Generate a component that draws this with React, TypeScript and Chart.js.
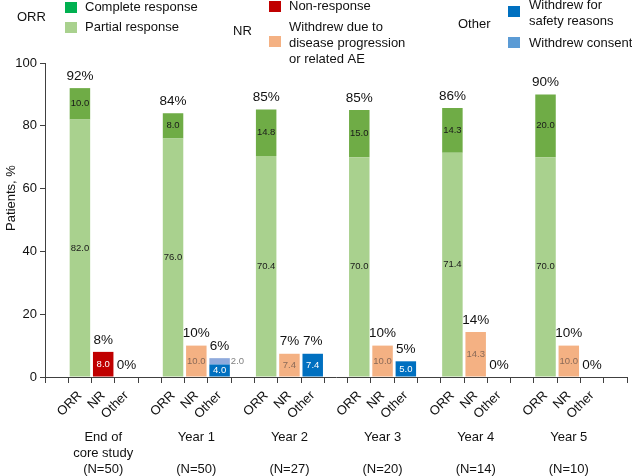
import React, { useEffect, useRef } from 'react';
import { Chart, registerables } from 'chart.js';

Chart.register(...registerables);

const FONT = "Arial, 'Liberation Sans', Helvetica, sans-serif";
const TEXT = '#111111';
const AXIS = '#404040';

// ---- data ----
const subCategories = ['ORR', 'NR', 'Other'];
const groupLabels = [
  ['End of', 'core study', '(N=50)'],
  ['Year 1', '', '(N=50)'],
  ['Year 2', '', '(N=27)'],
  ['Year 3', '', '(N=20)'],
  ['Year 4', '', '(N=14)'],
  ['Year 5', '', '(N=10)'],
];
const partialResponse = [82.0, 76.0, 70.4, 70.0, 71.4, 70.0];
const completeResponse = [10.0, 8.0, 14.8, 15.0, 14.3, 20.0];
const nonResponse = [8.0, 0, 0, 0, 0, 0];
const withdrewProgression = [0, 10.0, 7.4, 10.0, 14.3, 10.0];
const withdrewSafety = [0, 4.0, 7.4, 5.0, 0, 0];
const withdrewConsent = [0, 2.0, 0, 0, 0, 0];
const orrTotals = ['92%', '84%', '85%', '85%', '86%', '90%'];
const nrTotals = ['8%', '10%', '7%', '10%', '14%', '10%'];
const otherTotals = ['0%', '6%', '7%', '5%', '0%', '0%'];
const yTickValues = [0, 20, 40, 60, 80, 100];

// ---- slot layout (leading empty slot, then groups of ORR/NR/Other + gap) ----
const slotLabels: string[] = [''];
groupLabels.forEach(() => {
  subCategories.forEach((s) => slotLabels.push(s));
  slotLabels.push('');
});
const slotIndex = (g: number, s: number) => 1 + 4 * g + s;
function toSlots(values: number[], sub: number) {
  const arr: (number | null)[] = new Array(slotLabels.length).fill(null);
  values.forEach((v, g) => {
    if (v) arr[slotIndex(g, sub)] = v;
  });
  return arr;
}

const seriesDefs = [
  { label: 'Partial response', values: partialResponse, sub: 0, color: '#A9D18E', text: '#1a1a1a', outside: false },
  { label: 'Complete response', values: completeResponse, sub: 0, color: '#6FAC46', text: '#1a1a1a', outside: false },
  { label: 'Non-response', values: nonResponse, sub: 1, color: '#C00000', text: '#ffffff', outside: false },
  { label: 'Withdrew due to disease progression or related AE', values: withdrewProgression, sub: 1, color: '#F4B183', text: '#8a6a58', outside: false },
  { label: 'Withdrew for safety reasons', values: withdrewSafety, sub: 2, color: '#0070C0', text: '#ffffff', outside: false },
  { label: 'Withdrew consent', values: withdrewConsent, sub: 2, color: '#8FAADC', text: '#808080', outside: true },
];

const totalsBySub = [orrTotals, nrTotals, otherTotals];

const labelPlugin = {
  id: 'customLabels',
  afterDatasetsDraw(chart: any) {
    const ctx = chart.ctx;
    const xs = chart.scales.x;
    const ys = chart.scales.y;
    ctx.save();
    // inner value labels
    ctx.font = `9.5px ${FONT}`;
    ctx.textBaseline = 'middle';
    seriesDefs.forEach((def, di) => {
      const meta = chart.getDatasetMeta(di);
      meta.data.forEach((el: any, i: number) => {
        const v = chart.data.datasets[di].data[i];
        if (v == null) return;
        const ymid = (el.y + el.base) / 2;
        ctx.fillStyle = def.text;
        if (def.outside) {
          ctx.textAlign = 'left';
          ctx.fillText(Number(v).toFixed(1), el.x + el.width / 2 + 1, ymid);
        } else {
          ctx.textAlign = 'center';
          ctx.fillText(Number(v).toFixed(1), el.x, ymid);
        }
      });
    });
    // totals
    ctx.font = `13.5px ${FONT}`;
    ctx.fillStyle = TEXT;
    ctx.textAlign = 'center';
    groupLabels.forEach((_, g) => {
      for (let s = 0; s < 3; s++) {
        let sum = 0;
        seriesDefs.forEach((d) => {
          if (d.sub === s) sum += d.values[g];
        });
        const x = xs.getPixelForValue(slotIndex(g, s));
        const y = ys.getPixelForValue(sum);
        ctx.fillText(totalsBySub[s][g], x, y - 12);
      }
    });
    ctx.restore();
  },
  afterDraw(chart: any) {
    const ctx = chart.ctx;
    const xs = chart.scales.x;
    ctx.save();
    ctx.fillStyle = TEXT;
    ctx.font = `13px ${FONT}`;
    ctx.textBaseline = 'middle';
    // group labels
    ctx.textAlign = 'center';
    groupLabels.forEach((lines, g) => {
      const x = xs.getPixelForValue(slotIndex(g, 1));
      lines.forEach((ln, k) => {
        if (ln) ctx.fillText(ln, x, 437 + k * 16);
      });
    });
    // y title
    ctx.save();
    ctx.translate(11, 198);
    ctx.rotate(-Math.PI / 2);
    ctx.fillText('Patients, %', 0, 0);
    ctx.restore();
    // legend
    ctx.textAlign = 'left';
    const txt = (t: string, x: number, y: number) => {
      ctx.fillStyle = TEXT;
      ctx.fillText(t, x, y);
    };
    const sw = (c: string, x: number, y: number) => {
      ctx.fillStyle = c;
      ctx.fillRect(x, y, 12, 11);
    };
    txt('ORR', 17, 17);
    sw('#00B050', 65, 2);
    txt('Complete response', 85, 7);
    sw('#A9D18E', 65, 22);
    txt('Partial response', 85, 27);

    txt('NR', 233, 31);
    sw('#C00000', 269, 1);
    txt('Non-response', 289, 6);
    sw('#F4B183', 269, 36);
    txt('Withdrew due to', 289, 27);
    txt('disease progression', 289, 43);
    txt('or related AE', 289, 59);

    txt('Other', 458, 24);
    sw('#0070C0', 508, 6);
    txt('Withdrew for', 529, 5);
    txt('safety reasons', 529, 21);
    sw('#5B9BD5', 508, 37);
    txt('Withdrew consent', 529, 43);
    ctx.restore();
  },
};

export default function App() {
  const canvasRef = useRef<HTMLCanvasElement | null>(null);

  useEffect(() => {
    if (!canvasRef.current) return;
    const chart = new Chart(canvasRef.current, {
      type: 'bar',
      data: {
        labels: slotLabels,
        datasets: seriesDefs.map((d) => ({
          label: d.label,
          data: toSlots(d.values, d.sub),
          backgroundColor: d.color,
          borderWidth: 0,
          barPercentage: 0.88,
          categoryPercentage: 1,
          stack: 's',
        })),
      },
      options: {
        animation: false,
        responsive: true,
        maintainAspectRatio: false,
        layout: { padding: { top: 63, right: 5, left: 0, bottom: 0 } },
        plugins: {
          legend: { display: false },
          tooltip: { enabled: false },
        },
        scales: {
          x: {
            stacked: true,
            offset: true,
            grid: { offset: true, drawOnChartArea: false, drawTicks: true, tickLength: 6, color: AXIS },
            border: { display: true, color: AXIS },
            ticks: {
              autoSkip: false,
              maxRotation: 45,
              minRotation: 45,
              padding: 5,
              color: TEXT,
              font: { family: FONT, size: 13 },
            },
            afterFit: (s: any) => {
              s.height = 99;
            },
          },
          y: {
            stacked: true,
            min: 0,
            max: 100,
            afterBuildTicks: (s: any) => {
              s.ticks = yTickValues.map((v) => ({ value: v }));
            },
            grid: { drawOnChartArea: false, drawTicks: true, tickLength: 5, color: AXIS },
            border: { display: true, color: AXIS },
            ticks: {
              padding: 3,
              color: TEXT,
              font: { family: FONT, size: 13 },
            },
            afterFit: (s: any) => {
              s.width = 45;
            },
          },
        },
      },
      plugins: [labelPlugin],
    } as any);
    return () => chart.destroy();
  }, []);

  return (
    <div style={{ position: 'fixed', left: 0, top: 0, width: 632, height: 476, background: '#ffffff' }}>
      <canvas ref={canvasRef} />
    </div>
  );
}
